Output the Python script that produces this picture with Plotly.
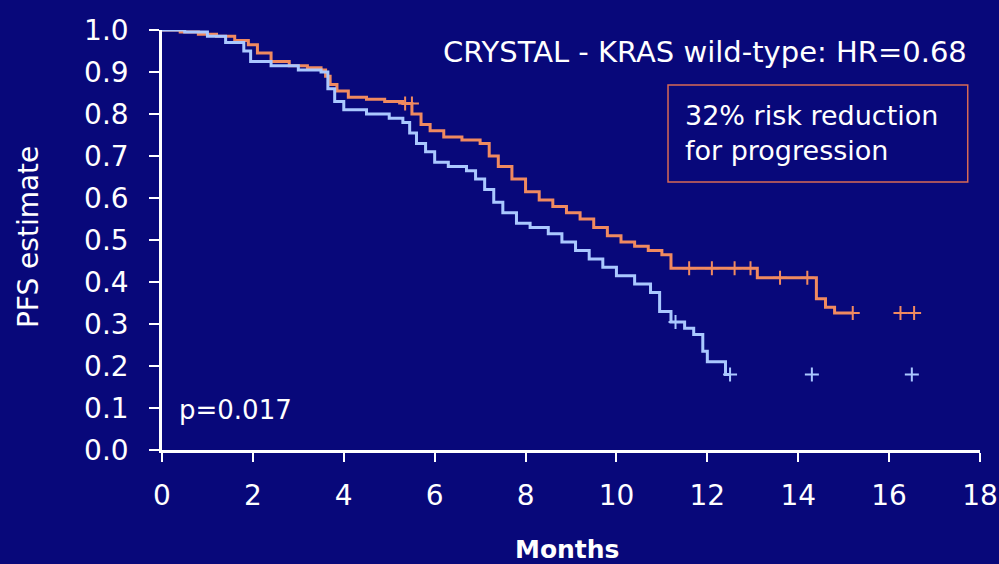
import plotly.graph_objects as go

# Kaplan-Meier PFS, KRAS wild-type (CRYSTAL)
ORANGE_T = [0, 0.4, 0.8, 1.2, 1.6, 1.9, 2.1, 2.4, 2.8, 3.2, 3.5, 3.6, 3.7, 3.85, 4.1, 4.5, 4.9,
            5.3, 5.5, 5.7, 5.9, 6.2, 6.6, 7.0, 7.2, 7.4, 7.7, 8.0, 8.3, 8.6, 8.9, 9.2, 9.5, 9.8,
            10.1, 10.4, 10.7, 11.0, 11.2, 13.1, 14.4, 14.6, 14.8, 15.2]
ORANGE_S = [1.0, 0.995, 0.99, 0.985, 0.975, 0.965, 0.945, 0.925, 0.915, 0.91, 0.905, 0.89, 0.87,
            0.855, 0.84, 0.835, 0.83, 0.825, 0.80, 0.775, 0.76, 0.745, 0.738, 0.73, 0.70, 0.675,
            0.645, 0.615, 0.595, 0.58, 0.565, 0.55, 0.53, 0.51, 0.495, 0.485, 0.475, 0.465, 0.433,
            0.41, 0.36, 0.34, 0.326, 0.326]
ORANGE_CENS_T = [5.35, 5.5, 11.6, 12.1, 12.6, 12.95, 13.6, 14.2, 15.2, 16.25, 16.55]
ORANGE_CENS_S = [0.825, 0.825, 0.433, 0.433, 0.433, 0.433, 0.41, 0.41, 0.326, 0.326, 0.326]

BLUE_T = [0, 0.5, 1.0, 1.4, 1.8, 1.95, 2.4, 3.0, 3.5, 3.65, 3.8, 4.0, 4.5, 5.0, 5.3, 5.45,
          5.6, 5.8, 6.0, 6.3, 6.7, 6.9, 7.1, 7.3, 7.5, 7.8, 8.1, 8.5, 8.8, 9.1, 9.4, 9.7, 10.0,
          10.4, 10.75, 10.95, 11.2, 11.5, 11.7, 11.9, 12.0, 12.4, 12.5]
BLUE_S = [1.0, 0.995, 0.985, 0.97, 0.95, 0.925, 0.915, 0.905, 0.90, 0.86, 0.83, 0.81, 0.80,
          0.79, 0.78, 0.755, 0.73, 0.71, 0.685, 0.675, 0.665, 0.645, 0.62, 0.59, 0.565, 0.54,
          0.53, 0.515, 0.495, 0.475, 0.455, 0.435, 0.415, 0.395, 0.375, 0.33, 0.305, 0.29,
          0.275, 0.235, 0.21, 0.18, 0.18]
BLUE_CENS_T = [11.3, 12.5, 14.3, 16.5]
BLUE_CENS_S = [0.305, 0.18, 0.18, 0.18]

X_TICKS = list(range(0, 19, 2))
Y_TICKS = [i / 10 for i in range(11)]

BG = "#08087a"
ORANGE = "#f08a60"
BLUE = "#aac8ff"
FONT = "DejaVu Sans"

fig = go.Figure()
for t, s, col in [(ORANGE_T, ORANGE_S, ORANGE), (BLUE_T, BLUE_S, BLUE)]:
    fig.add_trace(go.Scatter(x=t, y=s, mode="lines", line=dict(color=col, width=3, shape="hv"),
                             cliponaxis=False, showlegend=False, hoverinfo="skip"))
for t, s, col in [(ORANGE_CENS_T, ORANGE_CENS_S, ORANGE), (BLUE_CENS_T, BLUE_CENS_S, BLUE)]:
    fig.add_trace(go.Scatter(x=t, y=s, mode="markers",
                             marker=dict(symbol="cross-thin", size=10, line=dict(color=col, width=2)),
                             cliponaxis=False, showlegend=False, hoverinfo="skip"))

# texte
fig.add_annotation(x=0.986, y=0.948, xref="paper", yref="y", text="CRYSTAL - KRAS wild-type: HR=0.68",
                   showarrow=False, xanchor="right", yanchor="middle",
                   font=dict(family=FONT, size=29, color="white"))
fig.add_shape(type="rect", xref="paper", yref="y", x0=0.6186, x1=0.985, y0=0.638, y1=0.869,
              line=dict(color="#d86a55", width=1.5))
fig.add_annotation(x=0.637, y=0.754, xref="paper", yref="y",
                   text="32% risk reduction<br>for progression",
                   showarrow=False, xanchor="left", yanchor="middle", align="left",
                   font=dict(family=FONT, size=27, color="white"))
fig.add_annotation(x=0.018, y=0.095, xref="paper", yref="y", text="p=0.017",
                   showarrow=False, xanchor="left", yanchor="middle",
                   font=dict(family=FONT, size=26, color="white"))
fig.add_annotation(x=-0.1638, y=0.507, xref="paper", yref="y", text="PFS estimate", textangle=-90,
                   showarrow=False, xanchor="center", yanchor="middle",
                   font=dict(family=FONT, size=28, color="white"))
fig.add_annotation(x=0.495, y=-0.238, xref="paper", yref="paper", text="<b>Months</b>",
                   showarrow=False, xanchor="center", yanchor="middle",
                   font=dict(family=FONT, size=25, color="white"))

fig.update_layout(
    width=999, height=564,
    margin=dict(l=162, r=19, t=30, b=114),
    paper_bgcolor=BG, plot_bgcolor=BG,
    font=dict(family=FONT, color="white"),
    xaxis=dict(range=[0, 18], tickvals=X_TICKS, showgrid=False, zeroline=False, automargin=False,
               showline=True, linecolor="white", linewidth=2.5,
               ticks="outside", ticklen=9, tickwidth=2, tickcolor="white",
               tickfont=dict(size=28), ticklabelstandoff=10),
    yaxis=dict(range=[0, 1.0], tickvals=Y_TICKS, tickformat=".1f", showgrid=False, zeroline=False,
               automargin=False, showline=True, linecolor="white", linewidth=2.5,
               ticks="outside", ticklen=10, tickwidth=2, tickcolor="white",
               tickfont=dict(size=28), ticklabelstandoff=15),
)

fig.write_html("out.html", config={"displayModeBar": False},
               post_script="document.body.style.margin='0';")
